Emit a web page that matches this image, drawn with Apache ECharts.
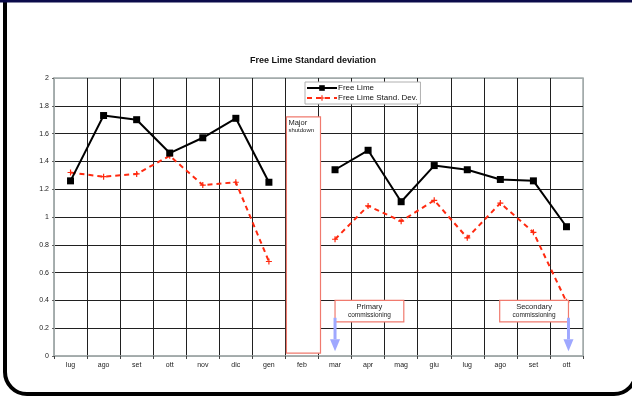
<!DOCTYPE html>
<html>
<head>
<meta charset="utf-8">
<script src="https://cdn.jsdelivr.net/npm/echarts@6/dist/echarts.min.js"></script>
<style>
  html, body { margin: 0; padding: 0; background: #fff; }
  #chart { width: 632px; height: 398px; }
</style>
</head>
<body>
<div id="chart"></div>
<script>
// Monthly readings, July to the following October (February: plant stopped)
const months = ['lug', 'ago', 'set', 'ott', 'nov', 'dic', 'gen', 'feb', 'mar', 'apr', 'mag', 'giu', 'lug', 'ago', 'set', 'ott'];
const freeLime = [1.26, 1.73, 1.70, 1.46, 1.57, 1.71, 1.25, null, 1.34, 1.48, 1.11, 1.37, 1.34, 1.27, 1.26, 0.93];
const freeLimeStdDev = [1.32, 1.29, 1.31, 1.44, 1.23, 1.25, 0.68, null, 0.84, 1.08, 0.97, 1.12, 0.85, 1.10, 0.89, 0.39];

// Shutdown period: [month index, upper value, lower value]
const shutdownSpan = [[7, 1.72, 0.02]];
const shutdownText = ['Major', 'shutdown'];

// Commissioning events: [month index, box top, box bottom]
const commissioningEvents = [[8, 0.40, 0.245], [15, 0.40, 0.245]];
const commissioningText = [['Primary', 'commissioning'], ['Secondary', 'commissioning']];

const FONT = '"Liberation Sans", Arial, sans-serif';
const GRID_DARK = '#202020';
const GRID_EDGE = '#a3abab';

const chart = echarts.init(document.getElementById('chart'), null, { renderer: 'canvas' });

// split line colours: outer edges grey, inner lines dark
const yLineColors = Array.from({ length: 11 }, (_, i) => (i === 0 || i === 10) ? GRID_EDGE : GRID_DARK);
const xLineColors = Array.from({ length: 17 }, (_, i) => (i === 0 || i === 16) ? GRID_EDGE : GRID_DARK);

function renderShutdown(params, api) {
  const idx = api.value(0);
  const top = api.coord([idx, api.value(1)]);
  const bottom = api.coord([idx, api.value(2)]);
  const bw = api.size([1, 0])[0];
  const x0 = top[0] - bw / 2 + 1;
  const x1 = top[0] + bw / 2 + 2;
  return {
    type: 'group',
    children: [
      {
        type: 'rect',
        shape: { x: x0, y: top[1], width: x1 - x0, height: bottom[1] - top[1] },
        style: { fill: '#fff', stroke: '#f07a6e', lineWidth: 1.2 }
      },
      {
        type: 'text',
        style: { x: x0 + 2, y: top[1] + 2, text: shutdownText[0], fill: '#222', font: '7.5px ' + FONT }
      },
      {
        type: 'text',
        style: { x: x0 + 2, y: top[1] + 10, text: shutdownText[1], fill: '#222', font: '6px ' + FONT }
      }
    ]
  };
}

function renderCommissioning(params, api) {
  const i = params.dataIndex;
  const idx = api.value(0);
  const topPt = api.coord([idx, api.value(1)]);
  const botPt = api.coord([idx, api.value(2)]);
  const bw = api.size([1, 0])[0];
  const boxW = 2.08 * bw;
  const arrowX = i === 0 ? topPt[0] : topPt[0] + 2;
  const x0 = i === 0 ? arrowX : arrowX - boxW;
  const shaftTop = api.coord([idx, 0.275])[1];
  const headTop = api.coord([idx, 0.12])[1];
  const headTip = api.coord([idx, 0.035])[1];
  const cx = x0 + boxW / 2;
  return {
    type: 'group',
    children: [
      {
        type: 'rect',
        shape: { x: x0, y: topPt[1], width: boxW, height: botPt[1] - topPt[1] },
        style: { fill: '#fff', stroke: '#f07a6e', lineWidth: 1.2 }
      },
      {
        type: 'text',
        style: { x: cx, y: topPt[1] + 3, text: commissioningText[i][0], fill: '#222', font: '7.5px ' + FONT, align: 'center' }
      },
      {
        type: 'text',
        style: { x: cx, y: topPt[1] + 11, text: commissioningText[i][1], fill: '#222', font: '6.5px ' + FONT, align: 'center' }
      },
      {
        type: 'rect',
        shape: { x: arrowX - 1.5, y: shaftTop, width: 3, height: headTop - shaftTop },
        style: { fill: '#9fa8ff' }
      },
      {
        type: 'polygon',
        shape: { points: [[arrowX - 5, headTop], [arrowX + 5, headTop], [arrowX, headTip]] },
        style: { fill: '#9fa8ff' }
      }
    ]
  };
}

const option = {
  backgroundColor: '#fff',
  animation: false,
  textStyle: { fontFamily: FONT },
  title: {
    text: 'Free Lime Standard deviation',
    left: 308,
    textAlign: 'center',
    top: 51,
    textStyle: { fontSize: 9, fontWeight: 'bold', color: '#111', fontFamily: FONT }
  },
  legend: {
    left: 305,
    top: 82,
    orient: 'vertical',
    backgroundColor: '#fff',
    borderColor: '#b0b0b0',
    borderWidth: 1,
    borderRadius: 0,
    padding: [2, 3, 2, 1],
    itemGap: 2,
    itemWidth: 30,
    itemHeight: 7,
    textStyle: { fontSize: 8, color: '#111', padding: [0, 0, 0, -4] },
    data: ['Free Lime', 'Free Lime Stand. Dev.']
  },
  grid: {
    left: 54, right: 49, top: 78, bottom: 42,
    show: true, borderColor: GRID_EDGE, borderWidth: 1.5, backgroundColor: 'transparent'
  },
  xAxis: {
    type: 'category',
    data: months,
    boundaryGap: true,
    axisLine: { show: true, lineStyle: { color: GRID_EDGE, width: 1.5 } },
    axisTick: { show: true, length: 3, lineStyle: { color: '#444' } },
    axisLabel: { fontSize: 7, color: '#222', margin: 6 },
    splitLine: { show: true, lineStyle: { color: xLineColors, width: 1 } }
  },
  yAxis: {
    type: 'value',
    min: 0, max: 2, interval: 0.2,
    axisLine: { show: true, lineStyle: { color: GRID_EDGE, width: 1.5 } },
    axisTick: { show: true, length: 2, lineStyle: { color: '#666' } },
    axisLabel: { fontSize: 7, color: '#222', margin: 5 },
    splitLine: { show: true, lineStyle: { color: yLineColors, width: 1 } }
  },
  series: [
    {
      type: 'custom',
      name: 'shutdown',
      renderItem: renderShutdown,
      data: shutdownSpan,
      clip: false,
      silent: true,
      z: 3
    },
    {
      name: 'Free Lime',
      type: 'line',
      data: freeLime,
      connectNulls: false,
      symbol: 'rect',
      symbolSize: 7,
      itemStyle: { color: '#000' },
      lineStyle: { color: '#000', width: 2 },
      z: 5
    },
    {
      name: 'Free Lime Stand. Dev.',
      type: 'line',
      data: freeLimeStdDev,
      connectNulls: false,
      symbol: 'path://M4,0H6V4H10V6H6V10H4V6H0V4H4Z',
      symbolSize: 6,
      itemStyle: { color: '#ff2a10' },
      lineStyle: { color: '#ff2a10', width: 2, type: [5, 4] },
      z: 4
    },
    {
      type: 'custom',
      name: 'commissioning',
      renderItem: renderCommissioning,
      data: commissioningEvents,
      clip: false,
      silent: true,
      z: 6
    }
  ],
  graphic: [
    {
      type: 'rect',
      shape: { x: 5, y: -20, width: 631, height: 414, r: 22 },
      style: { fill: 'none', stroke: '#000', lineWidth: 4 },
      silent: true, z: 100
    },
    {
      type: 'rect',
      shape: { x: 0, y: 0, width: 632, height: 2.5 },
      style: { fill: '#0b0b4a' },
      silent: true, z: 101
    }
  ]
};

chart.setOption(option);
</script>
</body>
</html>
